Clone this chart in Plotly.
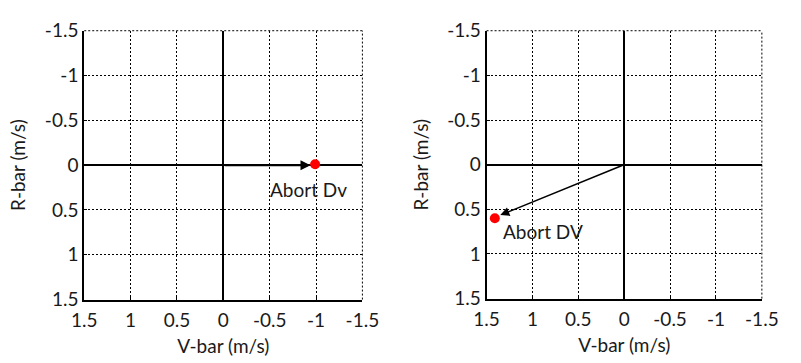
import plotly.graph_objects as go

# ---- data ----
tick_vals = [-1.5, -1, -0.5, 0, 0.5, 1, 1.5]
tick_text = ["-1.5", "-1", "-0.5", "0", "0.5", "1", "1.5"]

left_dot_v = [-0.99]
left_dot_r = [-0.01]
left_arrow_tail = [0.0, 0.0]      # (V, R)
left_arrow_head = [-0.94, 0.0]
left_label = "Abort Dv"
left_label_pos = [-0.92, 0.27]

right_dot_v = [1.41]
right_dot_r = [0.60]
right_arrow_tail = [0.0, 0.0]
right_arrow_head = [1.35, 0.565]
right_label = "Abort DV"
right_label_pos = [0.88, 0.75]

x_title = "V-bar (m/s)"
y_title = "R-bar (m/s)"

FONT = "Lato, Open Sans, sans-serif"
TXT = "#1a1a1a"
FS = 19

fig = go.Figure()

fig.add_trace(go.Scatter(x=left_dot_v, y=left_dot_r, mode="markers",
                         marker=dict(color="red", size=10), xaxis="x", yaxis="y",
                         showlegend=False, hoverinfo="skip"))
fig.add_trace(go.Scatter(x=right_dot_v, y=right_dot_r, mode="markers",
                         marker=dict(color="red", size=10), xaxis="x2", yaxis="y2",
                         showlegend=False, hoverinfo="skip"))

def xaxis(domain, anchor):
    return dict(domain=domain, anchor=anchor, range=[1.5, -1.5], tickvals=tick_vals,
                ticktext=tick_text, showgrid=True, gridcolor="black", gridwidth=1,
                griddash="2px,2px", zeroline=True, zerolinecolor="black", zerolinewidth=2,
                showline=True, linecolor="black", linewidth=2, mirror=False,
                ticks="inside", ticklen=3, tickcolor="black", ticklabelstandoff=3,
                tickfont=dict(family=FONT, size=FS, color=TXT),
                title=dict(text=x_title, font=dict(family=FONT, size=FS, color=TXT), standoff=9),
                fixedrange=True)

def yaxis(domain, anchor):
    return dict(domain=domain, anchor=anchor, range=[1.5, -1.5], tickvals=tick_vals,
                ticktext=tick_text, showgrid=True, gridcolor="black", gridwidth=1,
                griddash="2px,2px", zeroline=True, zerolinecolor="black", zerolinewidth=2,
                showline=True, linecolor="black", linewidth=2, mirror=False,
                ticks="inside", ticklen=3, tickcolor="black",
                tickfont=dict(family=FONT, size=FS, color=TXT),
                title=dict(text=y_title, font=dict(family=FONT, size=FS, color=TXT), standoff=14),
                fixedrange=True)

W, H = 801, 363
fig.update_layout(
    width=W, height=H, margin=dict(l=0, r=0, t=0, b=0),
    paper_bgcolor="white", plot_bgcolor="white", showlegend=False,
    xaxis=xaxis([74 / W, 363 / W], "y"),
    yaxis=yaxis([1 - 307 / H, 1 - 20 / H], "x"),
    xaxis2=xaxis([492 / W, 778 / W], "y2"),
    yaxis2=yaxis([1 - 306 / H, 1 - 20 / H], "x2"),
)

# dotted top / right borders
for xr, yr in (("x domain", "y domain"), ("x2 domain", "y2 domain")):
    fig.add_shape(type="line", xref=xr, yref=yr, x0=0, x1=1, y0=1, y1=1,
                  line=dict(color="black", width=1, dash="2px,2px"))
    fig.add_shape(type="line", xref=xr, yref=yr, x0=1, x1=1, y0=0, y1=1,
                  line=dict(color="black", width=1, dash="2px,2px"))

# arrows
fig.add_annotation(x=left_arrow_head[0], y=left_arrow_head[1], ax=left_arrow_tail[0],
                   ay=left_arrow_tail[1], xref="x", yref="y", axref="x", ayref="y",
                   showarrow=True, arrowhead=2, arrowsize=1, arrowwidth=2, arrowcolor="black", text="")
fig.add_annotation(x=right_arrow_head[0], y=right_arrow_head[1], ax=right_arrow_tail[0],
                   ay=right_arrow_tail[1], xref="x2", yref="y2", axref="x2", ayref="y2",
                   showarrow=True, arrowhead=2, arrowsize=1.2, arrowwidth=1.5, arrowcolor="black", text="")

# labels
fig.add_annotation(x=left_label_pos[0], y=left_label_pos[1], xref="x", yref="y", text=left_label,
                   showarrow=False, font=dict(family=FONT, size=FS, color=TXT))
fig.add_annotation(x=right_label_pos[0], y=right_label_pos[1], xref="x2", yref="y2", text=right_label,
                   showarrow=False, font=dict(family=FONT, size=FS, color=TXT))

fig.write_html("out.html")
